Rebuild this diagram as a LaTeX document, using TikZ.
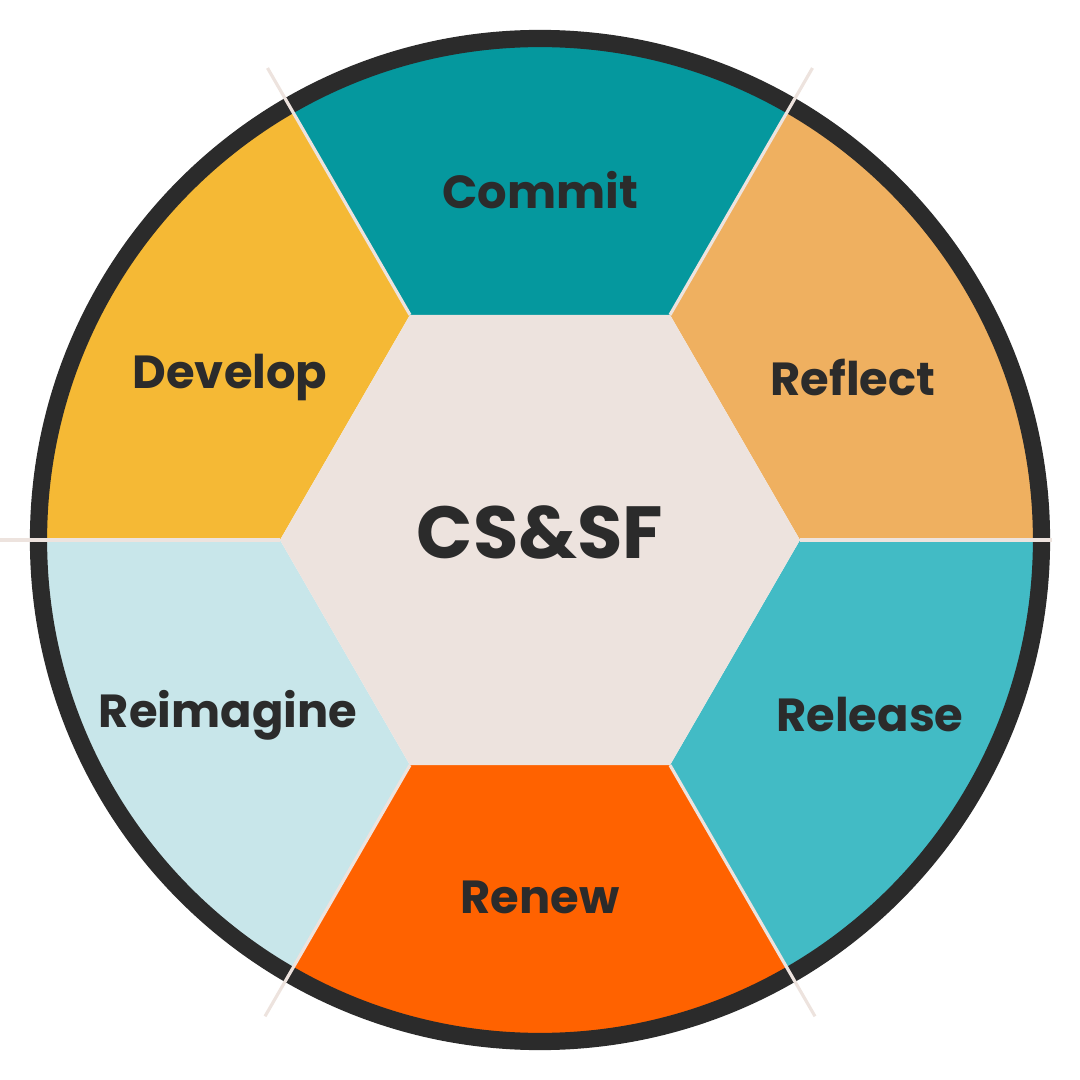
\documentclass[tikz,border=0pt]{standalone}
\usepackage{fontspec}
\setmainfont{Poppins}
\definecolor{ring}{HTML}{2B2B2B}
\definecolor{hub}{HTML}{EDE3DE}
\definecolor{commit}{HTML}{05989E}
\definecolor{reflect}{HTML}{EFB060}
\definecolor{release}{HTML}{42BBC5}
\definecolor{renew}{HTML}{FF6200}
\definecolor{reimagine}{HTML}{C8E6EA}
\definecolor{develop}{HTML}{F5B935}
\tikzset{
	label/.style = {text = ring, font = \bfseries\fontsize{13.2}{15}\selectfont},
	sep/.style = {draw = hub, line width = 0.9pt}
}

\begin{document}
\begin{tikzpicture}
	\useasboundingbox (-5.4,-5.4) rectangle (5.4,5.4);
	% sectors
	\path[fill = reflect] (0:2.6) -- (0:5.02) arc [start angle=0, end angle=60, radius=5.02] -- (60:2.6) -- cycle;
	\path[fill = commit] (60:2.6) -- (60:5.02) arc [start angle=60, end angle=120, radius=5.02] -- (120:2.6) -- cycle;
	\path[fill = develop] (120:2.6) -- (120:5.02) arc [start angle=120, end angle=180, radius=5.02] -- (180:2.6) -- cycle;
	\path[fill = reimagine] (180:2.6) -- (180:5.02) arc [start angle=180, end angle=240, radius=5.02] -- (240:2.6) -- cycle;
	\path[fill = renew] (240:2.6) -- (240:5.02) arc [start angle=240, end angle=300, radius=5.02] -- (300:2.6) -- cycle;
	\path[fill = release] (300:2.6) -- (300:5.02) arc [start angle=300, end angle=360, radius=5.02] -- (360:2.6) -- cycle;
	% hub
	\path[fill = hub] (0:2.6) -- (60:2.6) -- (120:2.6) -- (180:2.6) -- (240:2.6) -- (300:2.6) -- cycle;
	% outer ring
	\draw[draw = ring, line width = 4.9pt] (0,0) circle [radius=5.015];
	% separators
	\draw[sep] (60:2.6) -- (60:5.45);
	\draw[sep] (120:2.6) -- (120:5.45);
	\draw[sep] (180:2.6) -- (180:5.4);
	\draw[sep] (240:2.6) -- (240:5.5);
	\draw[sep] (300:2.6) -- (300:5.5);
	\draw[sep] (0:2.6) -- (0:5.12);
	% labels
	\node[label] (commit) at (0,3.5) {Commit};
	\node[label] (reflect) at (3.13,1.62) {Reflect};
	\node[label] (release) at (3.30,-1.75) {Release};
	\node[label] (renew) at (0,-3.57) {Renew};
	\node[label] (reimagine) at (-3.12,-1.75) {Reimagine};
	\node[label] (develop) at (-3.10,1.62) {Develop};
	\node[text = ring, font = \bfseries\fontsize{21}{25}\selectfont] (hubname) at (0,0.08) {CS\&SF};
\end{tikzpicture}
\end{document}
